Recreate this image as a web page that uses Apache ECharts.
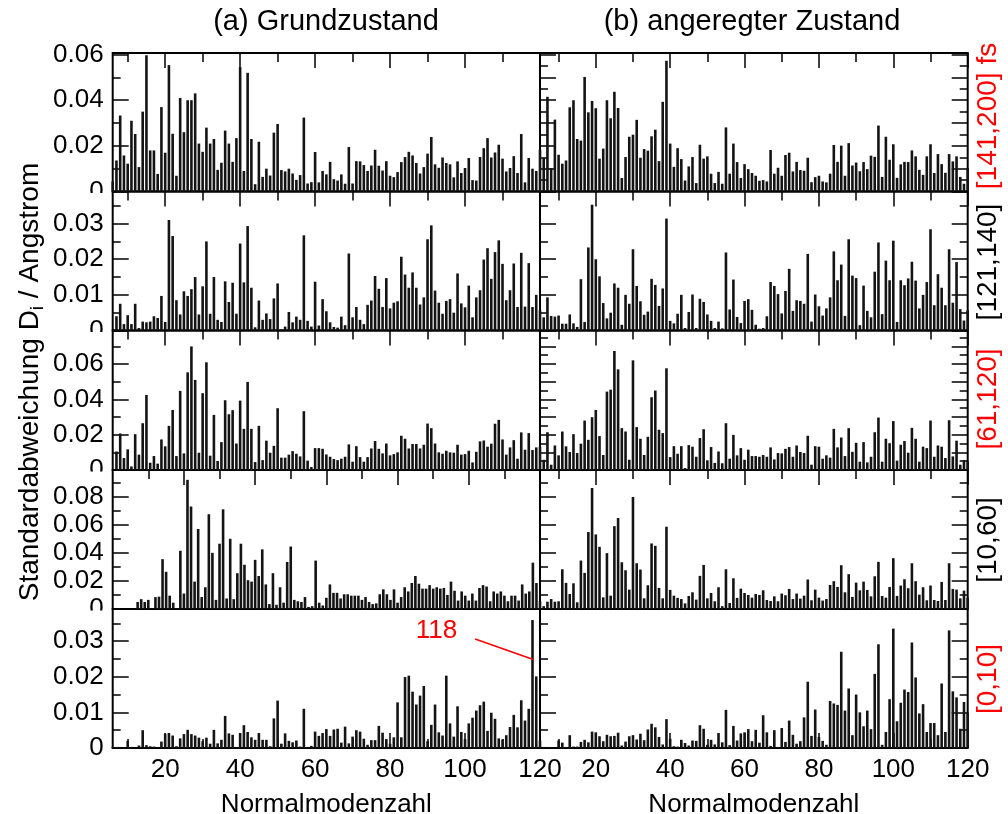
<!DOCTYPE html>
<html><head><meta charset="utf-8">
<script src="https://cdn.jsdelivr.net/npm/echarts@6/dist/echarts.min.js"></script>
<style>html,body{margin:0;padding:0;background:#fff}#c{width:1008px;height:814px}</style>
</head><body><div id="c"></div>
<script>
// ---------------- data ----------------
const FIRST_MODE = 6, LAST_MODE = 120;
const modes = []; for (let m = FIRST_MODE; m <= LAST_MODE; m++) modes.push(m);

const columnTitles = ['(a) Grundzustand', '(b) angeregter Zustand'];
const timeWindows = ['[141,200] fs', '[121,140]', '[61,120]', '[10,60]', '[0,10]'];
const windowColors = ['#ff0000', '#000000', '#ff0000', '#000000', '#ff0000'];
const yTitle = 'Standardabweichung D{sub|i} / Angstrom';
const xTitle = 'Normalmodenzahl';

// values for modes 6..120, ground state (a) and excited state (b)
const ground_141_200 = [0.0044,0.0136,0.0333,0.0158,0.0122,0.031,0.0252,0.0107,0.035,0.0597,
0.018,0.018,0.0077,0.037,0.017,0.0554,0.0253,0.0069,0.041,0.026,
0.040,0.040,0.043,0.021,0.0174,0.028,0.021,0.023,0.0095,0.0126,
0.0267,0.021,0.013,0.0234,0.0545,0.009,0.052,0.023,0.0032,0.0218,
0.0064,0.010,0.007,0.0258,0.0296,0.0094,0.0088,0.010,0.0079,0.0051,
0.0072,0.0324,0.0035,0.0041,0.0173,0.004,0.009,0.0075,0.013,0.0054,
0.0048,0.0075,0.0034,0.0195,0.0035,0.0133,0.0132,0.0116,0.009,0.0114,
0.0183,0.0113,0.0092,0.0133,0.0069,0.0063,0.0085,0.0129,0.0151,0.0174,
0.0158,0.0125,0.0079,0.0107,0.0166,0.0239,0.0119,0.0104,0.0149,0.0125,
0.0119,0.0062,0.0132,0.0081,0.0103,0.0147,0.005,0.0048,0.0151,0.019,
0.0234,0.0149,0.0171,0.0205,0.0144,0.0088,0.0103,0.0155,0.0081,0.0252,
0.004,0.0147,0.010,0.009,0.0183];
const excited_141_200 = [0.0147,0.0415,0.0103,0.0315,0.0161,0.0122,0.0136,0.0369,0.040,0.023,
0.0223,0.0502,0.0347,0.0397,0.0365,0.0144,0.0188,0.040,0.0321,0.0437,
0.0366,0.0059,0.0151,0.024,0.0249,0.0314,0.0148,0.0186,0.0179,0.0242,
0.0271,0.0133,0.0393,0.0573,0.021,0.0108,0.019,0.0142,0.0048,0.011,
0.0151,0.0037,0.0205,0.0144,0.0154,0.0078,0.0037,0.0086,0.0034,0.0281,
0.0078,0.021,0.0129,0.0059,0.012,0.0098,0.0081,0.0069,0.0047,0.005,
0.0044,0.0182,0.0078,0.0104,0.0069,0.016,0.017,0.0088,0.013,0.0094,
0.0091,0.0148,0.0041,0.0063,0.0069,0.0044,0.004,0.0078,0.0204,0.013,
0.0201,0.0069,0.0212,0.0114,0.0127,0.0089,0.0129,0.0098,0.0157,0.0152,
0.0289,0.0064,0.024,0.0139,0.0207,0.006,0.0119,0.013,0.0129,0.018,
0.0154,0.0095,0.0073,0.0154,0.0207,0.0081,0.0164,0.012,0.0082,0.0164,
0.0132,0.0154,0.0064,0.0034,0.0103];
const ground_121_140 = [0,0.004,0.0075,0.0018,0.0043,0.0018,0.0075,0.0007,0.0025,0.0023,
0.0025,0.004,0.0035,0.0097,0.0024,0.031,0.0265,0.0085,0.0045,0.011,
0.0097,0.0116,0.015,0.0045,0.0124,0.025,0.0047,0.015,0.003,0.0024,
0.0138,0.008,0.0134,0.0047,0.0244,0.0135,0.0293,0.012,0.0009,0.0084,
0.003,0.0048,0.0032,0.009,0.0132,0.0003,0.0011,0.0052,0.0023,0.0039,
0.003,0.0267,0.0027,0.0011,0.0137,0.0014,0.0088,0.0054,0.0023,0.001,
0.0008,0.0039,0.0015,0.0216,0.0037,0.0066,0.003,0.0018,0.0072,0.0084,
0.0153,0.0117,0.0066,0.0147,0.0062,0.0078,0.0082,0.0207,0.0157,0.012,
0.0163,0.012,0.0073,0.0093,0.0256,0.0295,0.0112,0.0078,0.0047,0.0083,
0.0088,0.005,0.016,0.0076,0.0065,0.0126,0.0037,0.0093,0.0113,0.0199,
0.0231,0.0145,0.022,0.0253,0.0187,0.0085,0.0113,0.0188,0.0066,0.0218,
0.0067,0.0189,0.0066,0.01,0.0057];
const excited_121_140 = [0.0037,0.0093,0.0041,0.0039,0.0042,0.0019,0.0019,0.0045,0.002,0.001,
0.0144,0.0024,0.0233,0.0353,0.02,0.0152,0.0077,0.0034,0.005,0.0132,
0.012,0.0016,0.01,0.0075,0.0228,0.0125,0.0082,0.0044,0.0053,0.0145,
0.0128,0.0069,0.0118,0.0314,0.0027,0.002,0.0047,0.01,0.0007,0.0052,
0.0101,0.0007,0.0089,0.008,0.0045,0.0027,0.0007,0.0025,0.0006,0.0219,
0.0059,0.0143,0.0038,0.0021,0.0083,0.0088,0.0058,0.0016,0.0005,0.0007,
0.004,0.0136,0.0125,0.0102,0.0048,0.0111,0.0173,0.0055,0.0085,0.0083,
0.0075,0.0215,0.0025,0.0101,0.0068,0.0042,0.0062,0.0093,0.0222,0.0141,
0.0185,0.0041,0.0256,0.0154,0.0147,0.0015,0.0126,0.0055,0.0037,0.0165,
0.0247,0.0046,0.0196,0.0141,0.0252,0.0024,0.0141,0.0127,0.0146,0.0193,
0.014,0.0062,0.01,0.0136,0.0284,0.0071,0.0158,0.012,0.0071,0.0228,
0.0078,0.0192,0.006,0.0028,0.0057];
const ground_61_120 = [0,0.0105,0.0207,0.0068,0.0117,0.002,0.0203,0.0087,0.0265,0.0425,
0.0041,0.0079,0.0036,0.0173,0.0134,0.025,0.034,0.0079,0.0448,0.0094,
0.0553,0.07,0.051,0.0098,0.0435,0.061,0.0081,0.0312,0.0051,0.0158,
0.0395,0.0316,0.0339,0.015,0.0393,0.0233,0.0499,0.0233,0.0045,0.025,
0.0056,0.0166,0.0098,0.0137,0.035,0.007,0.007,0.0087,0.0107,0.0092,
0.0077,0.0333,0.0053,0.0017,0.0124,0.0124,0.012,0.0088,0.0075,0.0062,
0.0056,0.0064,0.0075,0.0145,0.0047,0.0135,0.0073,0.0047,0.0073,0.0122,
0.0164,0.012,0.0094,0.015,0.0083,0.009,0.01,0.0194,0.0177,0.0122,
0.0147,0.0147,0.0122,0.0143,0.0263,0.0237,0.015,0.01,0.0092,0.0109,
0.01,0.0098,0.0143,0.0087,0.009,0.0109,0.0043,0.0103,0.0162,0.0167,
0.0132,0.0149,0.0262,0.0284,0.0173,0.0087,0.0128,0.0169,0.0064,0.0213,
0.0115,0.0209,0.0113,0.0128,0.0132];
const excited_61_120 = [0.0058,0.0214,0.003,0.0139,0.0083,0.0218,0.0134,0.0102,0.0203,0.0096,
0.0149,0.028,0.0171,0.0299,0.034,0.0192,0.0085,0.0444,0.0455,0.0674,
0.057,0.0237,0.0218,0.0058,0.0621,0.0243,0.0177,0.0085,0.0188,0.0412,
0.045,0.0228,0.0209,0.0576,0.0073,0.0135,0.0092,0.0135,0.0011,0.0141,
0.0132,0.0075,0.0181,0.0231,0.0055,0.013,0.004,0.0105,0.0038,0.0265,
0.0064,0.0199,0.0083,0.0124,0.0058,0.0115,0.0079,0.0079,0.0075,0.0085,
0.0075,0.0128,0.006,0.0096,0.0094,0.012,0.013,0.0075,0.0139,0.0102,
0.0096,0.0194,0.003,0.0135,0.0132,0.0064,0.0083,0.007,0.0233,0.0128,
0.0184,0.0079,0.0237,0.0103,0.0154,0.0047,0.0158,0.0043,0.0075,0.0214,
0.0297,0.0047,0.0177,0.0152,0.0277,0.0053,0.0143,0.0164,0.0098,0.0239,
0.0177,0.0047,0.0132,0.0124,0.028,0.0075,0.0139,0.0132,0.0068,0.0282,
0.0077,0.0166,0.003,0.0056,0.0049];
const ground_10_60 = [0,0.005,0.007,0.005,0.0065,0.0005,0.0085,0.0088,0.0355,0.0265,
0.0095,0.0045,0.0005,0.0415,0.011,0.092,0.073,0.0195,0.057,0.0085,
0.0155,0.0675,0.040,0.0065,0.0465,0.071,0.0075,0.050,0.007,0.0255,
0.0465,0.0315,0.0205,0.0195,0.035,0.0235,0.0425,0.0175,0.0035,0.0255,
0.003,0.0155,0.0045,0.0335,0.0445,0.0065,0.0055,0.005,0.0085,0.0015,
0.002,0.0345,0.0045,0.0025,0.008,0.0175,0.0115,0.0115,0.0075,0.0105,
0.0105,0.0095,0.0095,0.0095,0.0065,0.0085,0.005,0.0035,0.004,0.0105,
0.014,0.0105,0.0065,0.014,0.0045,0.0085,0.0155,0.0125,0.0185,0.0235,
0.018,0.0145,0.0145,0.017,0.0145,0.0155,0.0145,0.015,0.01,0.0195,
0.013,0.006,0.0125,0.0095,0.006,0.011,0.006,0.015,0.017,0.016,
0.0055,0.0125,0.011,0.0125,0.0095,0.0055,0.0095,0.0095,0.006,0.0175,
0.011,0.0125,0.033,0.0185,0.0055];
const excited_10_60 = [0.002,0.0052,0.0071,0.0052,0.0055,0.0283,0.0186,0.0107,0.0183,0.0048,
0.0345,0.0257,0.0548,0.0862,0.0531,0.0443,0.0083,0.0398,0.0095,0.059,
0.0648,0.0333,0.0276,0.0138,0.0798,0.0326,0.0281,0.0076,0.0169,0.0467,
0.045,0.015,0.0076,0.0586,0.0136,0.0095,0.0079,0.0071,0.004,0.0093,
0.0119,0.0067,0.0236,0.0314,0.0076,0.0114,0.0055,0.0155,0.002,0.0283,
0.0043,0.0219,0.0079,0.0145,0.0114,0.01,0.0081,0.0107,0.01,0.0133,
0.0064,0.0057,0.009,0.0055,0.011,0.0098,0.0143,0.0071,0.011,0.0074,
0.0095,0.021,0.0062,0.0138,0.0081,0.006,0.0071,0.0171,0.0198,0.0157,
0.0312,0.0119,0.0248,0.0086,0.0188,0.0133,0.0195,0.0136,0.009,0.0233,
0.0336,0.0093,0.0081,0.0157,0.0362,0.0093,0.0167,0.0212,0.0148,0.0326,
0.0198,0.0102,0.0155,0.0062,0.0167,0.0064,0.0057,0.0193,0.0064,0.0326,
0.0143,0.0138,0.0076,0.0131,0.0081];
const ground_0_10 = [0.0003,0.0003,0.0003,0.0002,0.002,0.0003,0,0.0007,0.005,0.0008,
0.0005,0.0004,0.0001,0.0018,0.004,0.0042,0.0035,0.0005,0.0027,0.0039,
0.0051,0.0039,0.0035,0.0029,0.0019,0.0029,0.0012,0.0051,0.0013,0.0023,
0.009,0.0041,0.0037,0.0003,0.0042,0.0064,0.0045,0.003,0.0023,0.0042,
0.0023,0.0023,0.0005,0.0083,0.0133,0.0012,0.0041,0.002,0.0016,0.0021,
0.0004,0.011,0.0003,0.0006,0.0046,0.0034,0.0042,0.0053,0.0034,0.0052,
0.0054,0.0015,0.006,0.0013,0.0032,0.005,0.0046,0.0026,0.0009,0.0022,
0.0022,0.0062,0.0043,0.0025,0.0012,0.003,0.0128,0.003,0.0199,0.0203,
0.0158,0.0122,0.0147,0.0174,0.0019,0.0065,0.0122,0.0044,0.0035,0.0203,
0.0069,0.0032,0.0117,0.0045,0.0025,0.0069,0.0085,0.0105,0.012,0.013,
0.0048,0.0099,0.0082,0.0027,0.0024,0.0036,0.0059,0.0093,0.0058,0.0134,
0.0077,0.011,0.0359,0.0201,0.0021];
const excited_0_10 = [0.0003,0.0003,0.0001,0,0.0021,0.0015,0.0003,0.0036,0.0004,0.0004,
0.0017,0.0023,0.0016,0.0046,0.0044,0.0033,0.0019,0.0037,0.0033,0.0034,
0.0043,0.0007,0.0018,0.0033,0.0036,0.0024,0.004,0.0022,0.0052,0.0068,
0.0058,0.0031,0.001,0.0081,0.0026,0.0005,0.0004,0.0023,0.0014,0.0007,
0.0021,0.002,0.0064,0.0054,0.0009,0.0023,0.001,0.0042,0.0016,0.0107,
0.0008,0.0062,0.0021,0.0041,0.0044,0.0053,0.0019,0.0051,0.0015,0.0092,
0.0044,0.0006,0.005,0.0003,0.0056,0.0017,0.0077,0.0037,0.0012,0.0019,
0.0086,0.0186,0.0034,0.0108,0.0031,0.002,0.0009,0.0132,0.0125,0.0121,
0.027,0.0105,0.0167,0.0036,0.015,0.01,0.0061,0.0105,0.0053,0.0208,
0.0291,0.0009,0.0045,0.0137,0.0335,0.0075,0.0127,0.0164,0.0157,0.0296,
0.0198,0.0097,0.0123,0.0045,0.007,0.007,0.0036,0.0181,0.0045,0.033,
0.0159,0.0142,0.0054,0.0129,0.0099];

// axis scales and tick labels
const yMax = [0.0607, 0.039, 0.079, 0.099, 0.039];
const yTickLabels = [[0,0.02,0.04,0.06],[0,0.01,0.02,0.03],[0,0.02,0.04,0.06],[0,0.02,0.04,0.06,0.08],[0,0.01,0.02,0.03]];
const yMinorLeft = [[0.01,0.03,0.05],[0.005,0.015,0.025,0.035],[0.01,0.03,0.05,0.07],[0.01,0.03,0.05,0.07,0.09],[0.005,0.015,0.025,0.035]];
const yMajorRight = [[0,0.01,0.02,0.03,0.04,0.05,0.06],[0,0.01,0.02,0.03],[0,0.01,0.02,0.03,0.04,0.05,0.06,0.07],[0,0.02,0.04,0.06,0.08],[0,0.01,0.02,0.03]];
const yMinorRight = [[0.005,0.015,0.025,0.035,0.045,0.055],[0.005,0.015,0.025,0.035],[0.005,0.015,0.025,0.035,0.045,0.055,0.065,0.075],[0.01,0.03,0.05,0.07,0.09],[0.005,0.015,0.025,0.035]];
const xTickLabels = [20,40,60,80,100,120];
const xMinorTicks = [10,30,50,70,90,110];
const xMin = [[6,5],[6,5],[6,5],[0,5],[6,5]];
const X_MAX = 120;
// annotation of mode 118 (data coordinates in the bottom-left panel)
const annotText = '118';
const annotTextAt = [92.4, 0.0328];
const annotLine = [[102.7, 0.0306], [118.2, 0.0248]];

// ---------------- layout ----------------
const FONT = 'Liberation Sans, Arial, Helvetica, sans-serif';
const colLeft = [112.7, 540], colWidth = [427.3, 427.7];
const rowEdges = [53, 191.5, 330.5, 470, 609, 748];
const panelData = [[ground_141_200, excited_141_200],[ground_121_140, excited_121_140],[ground_61_120, excited_61_120],[ground_10_60, excited_10_60],[ground_0_10, excited_0_10]];

const grids = [], xAxes = [], yAxes = [], series = [];
function mkX(gi, min, pos, ticks, len, labels) {
  return { type:'value', gridIndex:gi, position:pos, min:min, max:X_MAX,
    axisLine:{show:false, onZero:false}, splitLine:{show:false},
    axisTick:{show:ticks.length>0, inside:true, length:len, customValues:ticks, lineStyle:{color:'#000', width:1.5}},
    axisLabel:{show:labels, customValues:ticks, margin:9, color:'#000', fontSize:26, fontFamily:FONT, formatter:v=>String(v)},
    name: labels ? xTitle : '', nameLocation:'middle', nameGap:44,
    nameTextStyle:{color:'#000', fontSize:26, fontFamily:FONT} };
}
function mkY(gi, max, pos, ticks, len, labels) {
  return { type:'value', gridIndex:gi, position:pos, min:0, max:max,
    axisLine:{show:false, onZero:false}, splitLine:{show:false},
    axisTick:{show:true, inside:true, length:len, customValues:ticks, lineStyle:{color:'#000', width:1.5}},
    axisLabel:{show:labels, customValues:ticks, margin:9, color:'#000', fontSize:26, fontFamily:FONT,
      formatter:v=> v===0 ? '0' : v.toFixed(2)} };
}
for (let r = 0; r < 5; r++) {
  for (let c = 0; c < 2; c++) {
    const gi = grids.length;
    grids.push({ left:colLeft[c], top:rowEdges[r], width:colWidth[c], height:rowEdges[r+1]-rowEdges[r],
      show:true, borderColor:'#000', borderWidth:2, backgroundColor:'rgba(0,0,0,0)', containLabel:false, outerBoundsMode:'none' });
    const xmin = xMin[r][c];
    const bottomRow = (r === 4);
    const xi = xAxes.length;
    if (bottomRow) {
      xAxes.push(mkX(gi, xmin, 'bottom', xTickLabels, 15, true));
      xAxes.push(mkX(gi, xmin, 'bottom', xMinorTicks, 9, false));
    } else {
      xAxes.push(mkX(gi, xmin, 'top', xTickLabels, 15, false));
      xAxes.push(mkX(gi, xmin, 'top', xMinorTicks, 9, false));
    }
    const yi = yAxes.length;
    if (c === 0) {
      yAxes.push(mkY(gi, yMax[r], 'left', yTickLabels[r], 16, true));
      yAxes.push(mkY(gi, yMax[r], 'left', yMinorLeft[r], 8, false));
    } else {
      yAxes.push(mkY(gi, yMax[r], 'left', yMajorRight[r], 16, false));
      yAxes.push(mkY(gi, yMax[r], 'left', yMinorRight[r], 8, false));
      yAxes.push(mkY(gi, yMax[r], 'right', yMajorRight[r], 16, false));
      yAxes.push(mkY(gi, yMax[r], 'right', yMinorRight[r], 8, false));
    }
    const vals = panelData[r][c];
    const s = { type:'bar', xAxisIndex:xi, yAxisIndex:yi, barWidth:2.6, clip:false, silent:true,
      itemStyle:{color:'#141414'}, data: modes.map((m, i) => [m, vals[i]]) };
    if (r === 4 && c === 0) {
      s.markLine = { silent:true, symbol:['none','none'], animation:false, label:{show:false},
        lineStyle:{color:'#ff0000', width:1.6, type:'solid'},
        data:[[{coord:annotLine[0]}, {coord:annotLine[1]}]] };
      s.markPoint = { silent:true, symbol:'circle', symbolSize:1, animation:false, itemStyle:{color:'rgba(0,0,0,0)'},
        label:{show:true, position:'inside', formatter:annotText, color:'#ff0000', fontSize:26, fontFamily:FONT},
        data:[{coord:annotTextAt}] };
    }
    series.push(s);
  }
}

const graphics = [];
// column titles
[326, 752].forEach((x, c) => graphics.push({ type:'text', x:x, y:22, z:100,
  style:{ text:columnTitles[c], fill:'#000', font:'29px ' + FONT, textAlign:'center', textVerticalAlign:'middle' } }));
// y-axis title
graphics.push({ type:'text', x:30, y:382, rotation:Math.PI/2, z:100,
  style:{ text:yTitle, fill:'#000', font:'28px ' + FONT, textAlign:'center', textVerticalAlign:'middle', lineHeight:34,
    rich:{ sub:{ fontSize:19, fontFamily:FONT, verticalAlign:'bottom', lineHeight:34, fill:'#000' } } } });
// time-window labels at the right
const winY = [116, 262, 399, 540, 679];
timeWindows.forEach((t, r) => graphics.push({ type:'text', x:988, y:winY[r], rotation:Math.PI/2, z:100,
  style:{ text:t, fill:windowColors[r], font:'28px ' + FONT, textAlign:'center', textVerticalAlign:'middle' } }));
// the zero labels are cut by the panel below
for (let r = 1; r < 5; r++) graphics.push({ type:'rect', z:50, silent:true,
  shape:{ x:40, y:rowEdges[r] + 1.5, width:70, height:8 }, style:{ fill:'#fff' } });

const chart = echarts.init(document.getElementById('c'), null, { renderer:'canvas' });
chart.setOption({ animation:false, backgroundColor:'#fff', grid:grids, xAxis:xAxes, yAxis:yAxes, series:series, graphic:graphics });
</script></body></html>
